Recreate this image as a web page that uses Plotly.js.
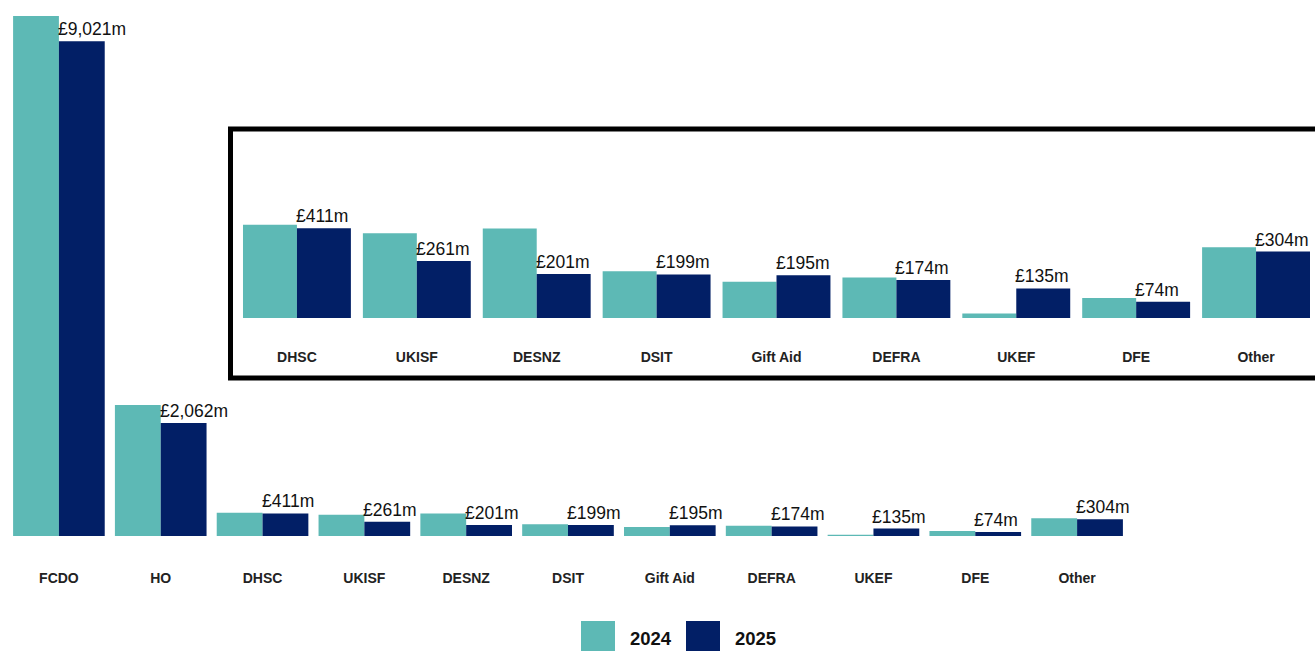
<!DOCTYPE html>
<html>
<head>
<meta charset="utf-8">
<script src="https://cdn.plot.ly/plotly-3.0.1.min.js"></script>
<style>
  html, body { margin: 0; padding: 0; background: #fff; }
  #chart { width: 1315px; height: 651px; }
</style>
</head>
<body>
<div id="chart"></div>
<script>
// spend by department, £m
const departments = ['FCDO', 'HO', 'DHSC', 'UKISF', 'DESNZ', 'DSIT', 'Gift Aid', 'DEFRA', 'UKEF', 'DFE', 'Other'];
const values2024 = [9480, 2390, 426, 388, 409, 214, 166, 185, 21, 91, 323];
const values2025 = [9021, 2062, 411, 261, 201, 199, 195, 174, 135, 74, 304];
const seriesNames = ['2024', '2025'];
const colours = ['#5DB9B5', '#021F66'];

// the inset zooms in on everything after HO
const insetStart = 2;
const insetDepts = departments.slice(insetStart);
const inset2024 = values2024.slice(insetStart);
const inset2025 = values2025.slice(insetStart);

const W = 1315, H = 651;
const px = v => v / W;
const py = v => 1 - v / H;

function fmt(v) {
	return '£' + v.toLocaleString('en-GB') + 'm';
}

const traces = [
	{x: departments, y: values2024, name: seriesNames[0], type: 'bar', marker: {color: colours[0]}, xaxis: 'x', yaxis: 'y', hoverinfo: 'skip'},
	{x: departments, y: values2025, name: seriesNames[1], type: 'bar', marker: {color: colours[1]}, xaxis: 'x', yaxis: 'y', hoverinfo: 'skip'},
	{x: insetDepts, y: inset2024, name: seriesNames[0], type: 'bar', marker: {color: colours[0]}, xaxis: 'x2', yaxis: 'y2', hoverinfo: 'skip'},
	{x: insetDepts, y: inset2025, name: seriesNames[1], type: 'bar', marker: {color: colours[1]}, xaxis: 'x2', yaxis: 'y2', hoverinfo: 'skip'},
];

const labelFont = {family: 'Liberation Sans, Arial, sans-serif', size: 17.5, color: '#111'};
const annotations = [];
departments.forEach((d, i) => {
	annotations.push({x: d, y: values2025[i], xref: 'x', yref: 'y', text: fmt(values2025[i]),
		showarrow: false, xanchor: 'left', yanchor: 'bottom', xshift: -3, yshift: 0, font: labelFont});
});
insetDepts.forEach((d, i) => {
	annotations.push({x: d, y: inset2025[i], xref: 'x2', yref: 'y2', text: fmt(inset2025[i]),
		showarrow: false, xanchor: 'left', yanchor: 'bottom', xshift: -3, yshift: 0, font: labelFont});
});

// hand-made legend with big swatches
const legendX = [581, 686];
const shapes = [
	{type: 'rect', xref: 'paper', yref: 'paper', x0: px(230.5), x1: px(1330), y0: py(378), y1: py(129),
		line: {color: '#000', width: 5}, fillcolor: 'rgba(0,0,0,0)'},
];
seriesNames.forEach((n, i) => {
	shapes.push({type: 'rect', xref: 'paper', yref: 'paper', x0: px(legendX[i]), x1: px(legendX[i] + 34),
		y0: py(660), y1: py(621), line: {width: 0}, fillcolor: colours[i]});
	annotations.push({xref: 'paper', yref: 'paper', x: px(legendX[i] + 47), y: py(638), text: '<b>' + n + '</b>',
		showarrow: false, xanchor: 'left', yanchor: 'middle',
		font: {family: 'Liberation Sans, Arial, sans-serif', size: 18.5, color: '#111'}});
});

const tickFont = {family: 'Liberation Sans, Arial, sans-serif', size: 14, color: '#222', weight: 'bold'};

const layout = {
	width: W, height: H,
	margin: {l: 0, r: 0, t: 0, b: 0},
	paper_bgcolor: '#fff', plot_bgcolor: 'rgba(0,0,0,0)',
	showlegend: false,
	barmode: 'group', bargap: 0.1, bargroupgap: 0,
	xaxis: {domain: [px(8), px(1128)], range: [-0.5, 10.5], type: 'category', showgrid: false, zeroline: false,
		showline: false, ticks: '', tickfont: tickFont, ticklabelstandoff: 32, fixedrange: true},
	yaxis: {domain: [py(536), py(15)], range: [0, 9500], visible: false, fixedrange: true},
	xaxis2: {domain: [px(237), 1], range: [-0.5, 8.4917], type: 'category', anchor: 'y2', showgrid: false, zeroline: false,
		showline: false, ticks: '', tickfont: tickFont, ticklabelstandoff: 29, fixedrange: true},
	yaxis2: {domain: [py(318), py(219.6)], range: [0, 450], anchor: 'x2', visible: false, fixedrange: true},
	annotations: annotations,
	shapes: shapes,
};

Plotly.newPlot('chart', traces, layout, {displayModeBar: false, staticPlot: true});
</script>
</body>
</html>
